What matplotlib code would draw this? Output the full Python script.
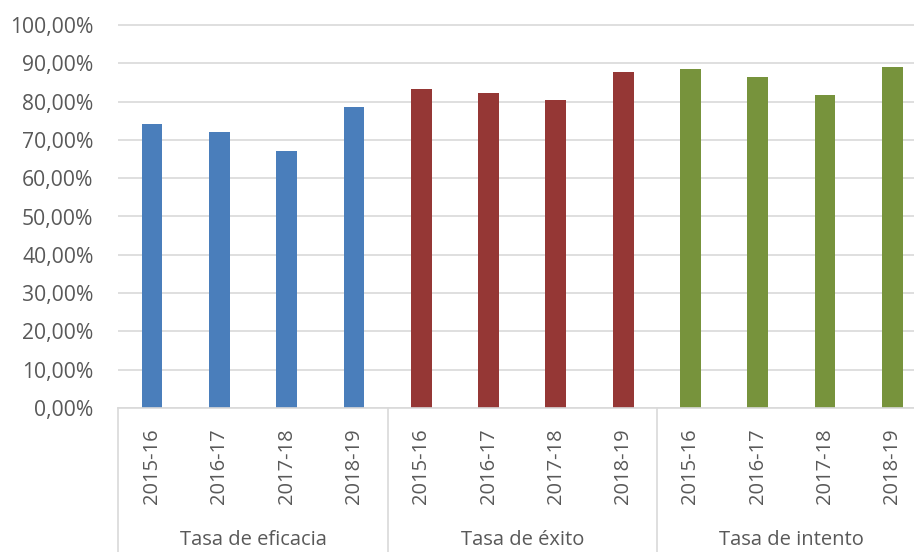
import matplotlib
matplotlib.use("Agg")
import matplotlib.pyplot as plt
import matplotlib.transforms as mtransforms

# datos
grupos = ['Tasa de eficacia', 'Tasa de éxito', 'Tasa de intento']
cursos = ['2015-16', '2016-17', '2017-18', '2018-19']
eficacia = [74.2, 72.1, 67.0, 78.5]
exito = [83.2, 82.2, 80.3, 87.6]
intento = [88.6, 86.5, 81.8, 89.0]
colores = ['#4A7EBB', '#953735', '#77933C']

plt.rcParams['font.family'] = ['Open Sans', 'DejaVu Sans']
gris = '#595959'

fig = plt.figure(figsize=(9.14, 5.52), dpi=100)
W, H = 914, 552
px_y = 3.83
ymax = 101
left, right, y0 = 118.4, 926, 408
ax = fig.add_axes([left / W, (H - y0) / H, (right - left) / W, ymax * px_y / H])

series = [eficacia, exito, intento]
pos = 0
xs_all = []
labels_all = []
for g, vals in enumerate(series):
    xs = list(range(pos, pos + len(vals)))
    ax.bar(xs, vals, width=0.31, color=colores[g], zorder=3)
    xs_all += xs
    labels_all += cursos
    pos += len(vals)

ax.set_xlim(-0.5, pos - 0.5)
ax.set_ylim(0, ymax)
ax.set_yticks(range(0, 101, 10))
ax.set_yticklabels([f'{v},00%' for v in range(0, 101, 10)])
ax.set_xticks(xs_all)
ax.set_xticklabels(labels_all, rotation=90)
ax.tick_params(axis='both', length=0, colors=gris, labelsize=14.5)
ax.tick_params(axis='y', pad=18, labelsize=15.2)
ax.tick_params(axis='x', pad=15)
ax.grid(axis='y', color='#D9D9D9', linewidth=1.2, zorder=0)
for s in ['top', 'right', 'left']:
    ax.spines[s].set_visible(False)
ax.spines['bottom'].set_color('#D9D9D9')
ax.spines['bottom'].set_linewidth(1.2)
ax.spines['bottom'].set_zorder(4)

# separadores de grupo y etiquetas
trans = mtransforms.blended_transform_factory(ax.transData, ax.transAxes)
h_ax = ymax * px_y
bajo = -(H - y0) / h_ax
for k in range(len(grupos) + 1):
    x = k * 4 - 0.5
    ax.plot([x, x], [0, bajo], color='#D9D9D9', linewidth=1.2, transform=trans, clip_on=False)
for k, nombre in enumerate(grupos):
    ax.text(k * 4 + 1.5, -(540 - y0) / h_ax, nombre, transform=trans, ha='center', va='center',
            fontsize=14.5, color=gris)

fig.savefig('out.png', dpi=100)
